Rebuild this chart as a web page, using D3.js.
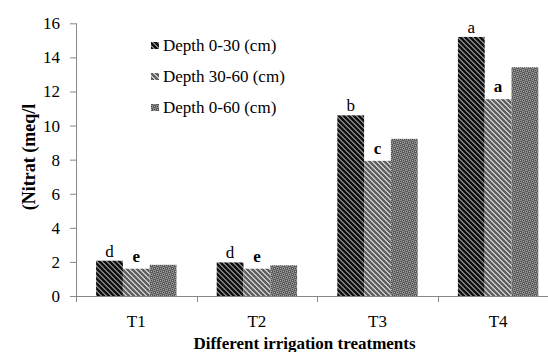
<!DOCTYPE html>
<html>
<head>
<meta charset="utf-8">
<script src="https://cdn.jsdelivr.net/npm/d3@7/dist/d3.min.js"></script>
<style>
  html, body { margin: 0; padding: 0; background: #fff; }
  svg { display: block; }
  svg text { font-family: "Liberation Serif", Tinos, "Times New Roman", Times, serif !important; fill: #000; }
</style>
</head>
<body>
<svg id="chart" width="548" height="352"></svg>
<script>
const categories = ["T1", "T2", "T3", "T4"];
const seriesNames = ["Depth 0-30 (cm)", "Depth 30-60 (cm)", "Depth 0-60 (cm)"];
const depth0_30 = [2.07, 1.97, 10.6, 15.2];
const depth30_60 = [1.6, 1.6, 7.93, 11.55];
const depth0_60 = [1.83, 1.8, 9.22, 13.42];
const letters0_30 = ["d", "d", "b", "a"];
const letters30_60 = ["e", "e", "c", "a"];
const yTicks = [0, 2, 4, 6, 8, 10, 12, 14, 16];
const yTitle = "(Nitrat (meq/l";
const xTitle = "Different irrigation treatments";

const svg = d3.select("#chart");
const mLeft = 76, mRight = 558.4, mTop = 23.3, mBottom = 296;

// patterns
const defs = svg.append("defs");
function stripes(id, bg, fg) {
  const p = defs.append("pattern").attr("id", id).attr("patternUnits", "userSpaceOnUse")
    .attr("width", 5).attr("height", 5);
  p.append("rect").attr("width", 5).attr("height", 5).attr("fill", bg);
  for (let i = 0; i < 5; i++) {
    for (let k = 0; k < 2; k++) {
      p.append("rect").attr("x", (i + k) % 5).attr("y", i).attr("width", 1).attr("height", 1).attr("fill", fg);
    }
  }
}
stripes("p1", "#111", "#7c7c7c");
stripes("p2", "#606060", "#c4c4c4");
(function () {
  const p = defs.append("pattern").attr("id", "p3").attr("patternUnits", "userSpaceOnUse")
    .attr("width", 6).attr("height", 6);
  p.append("rect").attr("width", 6).attr("height", 6).attr("fill", "#8a8a8a");
  p.append("rect").attr("x", 0).attr("y", 0).attr("width", 3).attr("height", 3).attr("fill", "#5a5a5a");
  p.append("rect").attr("x", 3).attr("y", 3).attr("width", 3).attr("height", 3).attr("fill", "#5a5a5a");
  p.append("rect").attr("x", 1).attr("y", 1).attr("width", 1).attr("height", 1).attr("fill", "#b8b8b8");
  p.append("rect").attr("x", 4).attr("y", 4).attr("width", 1).attr("height", 1).attr("fill", "#b8b8b8");
  p.append("rect").attr("x", 4).attr("y", 1).attr("width", 1).attr("height", 1).attr("fill", "#444");
  p.append("rect").attr("x", 1).attr("y", 4).attr("width", 1).attr("height", 1).attr("fill", "#444");
})();
const fills = ["url(#p1)", "url(#p2)", "url(#p3)"];

const x0 = d3.scaleBand().domain(categories).range([mLeft, mRight]).paddingInner(0).paddingOuter(0);
const bw = x0.bandwidth() / 4.5;
const x1 = d3.scaleBand().domain([0, 1, 2]).range([bw * 0.75, bw * 3.75]).padding(0);
const y = d3.scaleLinear().domain([0, 16]).range([mBottom, mTop]);

const allSeries = [depth0_30, depth30_60, depth0_60];

// bars
allSeries.forEach((vals, s) => {
  svg.append("g").selectAll("rect").data(vals).join("rect")
    .attr("x", (d, i) => x0(categories[i]) + x1(s))
    .attr("y", d => y(d))
    .attr("width", x1.bandwidth())
    .attr("height", d => y(0) - y(d))
    .attr("fill", fills[s]);
});

// y axis
const yAxis = svg.append("g").attr("transform", `translate(${mLeft},0)`)
  .call(d3.axisLeft(y).tickValues(yTicks).tickSize(6).tickPadding(10).tickFormat(d3.format("d")));
yAxis.attr("font-family", null);
yAxis.select(".domain").attr("stroke", "#888").attr("d", `M0.5,${mTop}V${mBottom}`);
yAxis.selectAll(".tick line").attr("stroke", "#888");
yAxis.selectAll(".tick text").attr("font-size", 17).attr("fill", "#000");

// x axis
const xAxis = svg.append("g").attr("transform", `translate(0,${mBottom})`)
  .call(d3.axisBottom(x0).tickSize(0).tickPadding(19));
xAxis.attr("font-family", null);
xAxis.select(".domain").attr("stroke", "#888");
xAxis.selectAll(".tick text").attr("font-size", 17).attr("fill", "#000");
svg.append("g").selectAll("line").data(categories.concat(["end"])).join("line")
  .attr("x1", (d, i) => Math.round(mLeft + i * x0.bandwidth()) + 0.5)
  .attr("x2", (d, i) => Math.round(mLeft + i * x0.bandwidth()) + 0.5)
  .attr("y1", mBottom).attr("y2", mBottom + 6)
  .attr("stroke", "#888");

// letters
svg.append("g").selectAll("text").data(letters0_30).join("text")
  .attr("x", (d, i) => x0(categories[i]) + x1(0) + x1.bandwidth() / 2)
  .attr("y", (d, i) => y(depth0_30[i]) - 4)
  .attr("text-anchor", "middle").attr("font-size", 17).text(d => d);
svg.append("g").selectAll("text").data(letters30_60).join("text")
  .attr("x", (d, i) => x0(categories[i]) + x1(1) + x1.bandwidth() / 2)
  .attr("y", (d, i) => y(depth30_60[i]) - 7)
  .attr("text-anchor", "middle").attr("font-size", 17).attr("font-weight", "bold").text(d => d);

// legend
const lg = svg.append("g");
seriesNames.forEach((n, i) => {
  const by = 51 + i * 31;
  lg.append("rect").attr("x", 151).attr("y", by - 9).attr("width", 8).attr("height", 7).attr("fill", fills[i]);
  lg.append("text").attr("x", 163).attr("y", by).attr("font-size", 17).text(n);
});

// titles
svg.append("text").attr("transform", "translate(35,157) rotate(-90)")
  .attr("text-anchor", "middle").attr("font-size", 18).attr("font-weight", "bold").text(yTitle);
svg.append("text").attr("x", 304.5).attr("y", 349)
  .attr("text-anchor", "middle").attr("font-size", 17).attr("font-weight", "bold").text(xTitle);
</script>
</body>
</html>
